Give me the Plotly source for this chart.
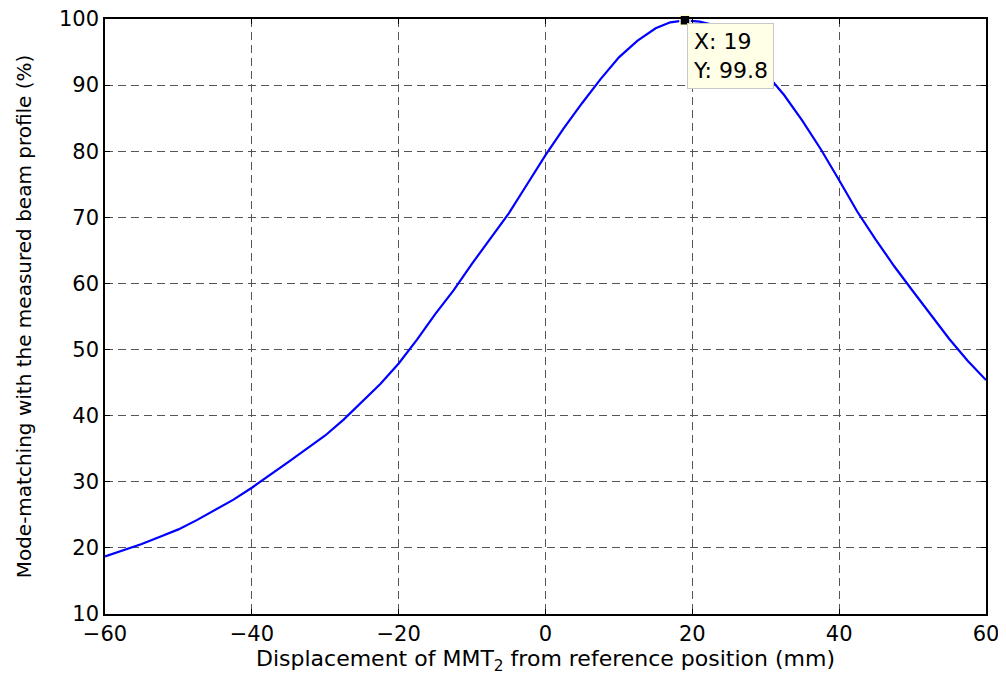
import plotly.graph_objects as go

# Displacement of MMT2 (mm)
displacement = [-60, -57.5, -55, -52.5, -50, -47.5, -45, -42.5, -40, -37.5, -35, -32.5,
                -30, -27.5, -25, -22.5, -20, -17.5, -15, -12.5, -10, -7.5, -5, -2.5,
                0, 2.5, 5, 7.5, 10, 12.5, 15, 17, 19, 21, 22.5, 25, 27.5, 30, 32.5,
                35, 37.5, 40, 42.5, 45, 47.5, 50, 52.5, 55, 57.5, 60]
# Mode-matching (%)
matching = [18.7, 19.6, 20.6, 21.7, 22.8, 24.2, 25.7, 27.3, 29.1, 31.0, 33.0, 35.0,
            37.0, 39.4, 42.1, 44.8, 47.9, 51.5, 55.4, 59.0, 63.0, 66.8, 70.6, 75.0,
            79.4, 83.5, 87.3, 90.9, 94.2, 96.7, 98.6, 99.5, 99.8, 99.6, 99.2, 97.5, 94.8, 91.8, 88.5,
            84.6, 80.3, 75.6, 70.8, 66.6, 62.6, 58.9, 55.3, 51.6, 48.3, 45.4]

tip_x = [19]
tip_y = [99.8]

x_ticks = [-60, -40, -20, 0, 20, 40, 60]
y_ticks = [10, 20, 30, 40, 50, 60, 70, 80, 90, 100]

FONT = "DejaVu Sans, Liberation Sans, Arial"

fig = go.Figure()
fig.add_trace(go.Scatter(x=displacement, y=matching, mode="lines",
                         line=dict(color="#0000FF", width=2.2), showlegend=False,
                         hoverinfo="skip"))
fig.add_trace(go.Scatter(x=tip_x, y=tip_y, mode="markers",
                         marker=dict(symbol="square", size=10, color="black",
                                     line=dict(color="#FFFFD0", width=1.5)),
                         cliponaxis=False, showlegend=False))

fig.add_annotation(x=tip_x[0], y=tip_y[0], xref="x", yref="y",
                   text=f"X: {tip_x[0]}<br>Y: {tip_y[0]}",
                   showarrow=False, xanchor="left", yanchor="top", align="left",
                   xshift=2, yshift=-3,
                   font=dict(family=FONT, size=22, color="black"),
                   bgcolor="#FFFFE8", bordercolor="#C8C8C8", borderwidth=1, borderpad=5)

axis_common = dict(showline=True, linecolor="black", linewidth=1.5, mirror="ticks",
                   ticks="inside", ticklen=5, tickcolor="black",
                   showgrid=True, gridcolor="#555555", griddash="8px,5px", gridwidth=1,
                   zeroline=False, automargin=False, ticklabeloverflow="allow",
                   tickfont=dict(family=FONT, size=21, color="black"))

fig.update_xaxes(range=[-60, 60], tickvals=x_ticks,
                 title=dict(text="Displacement of MMT<sub>2</sub> from reference position (mm)",
                            font=dict(family=FONT, size=22, color="black"),
                            standoff=4),
                 **axis_common)
fig.update_yaxes(range=[10, 100], tickvals=y_ticks,
                 title=dict(text="Mode-matching with the measured beam profile (%)",
                            font=dict(family=FONT, size=20, color="black"),
                            standoff=22),
                 **axis_common)

# page body has an 8px margin, so the figure is shifted by 8px; compensate
fig.update_layout(width=998, height=674,
                  margin=dict(l=97, r=20, t=11, b=68),
                  paper_bgcolor="white", plot_bgcolor="white")

fig.write_html("out.html")
